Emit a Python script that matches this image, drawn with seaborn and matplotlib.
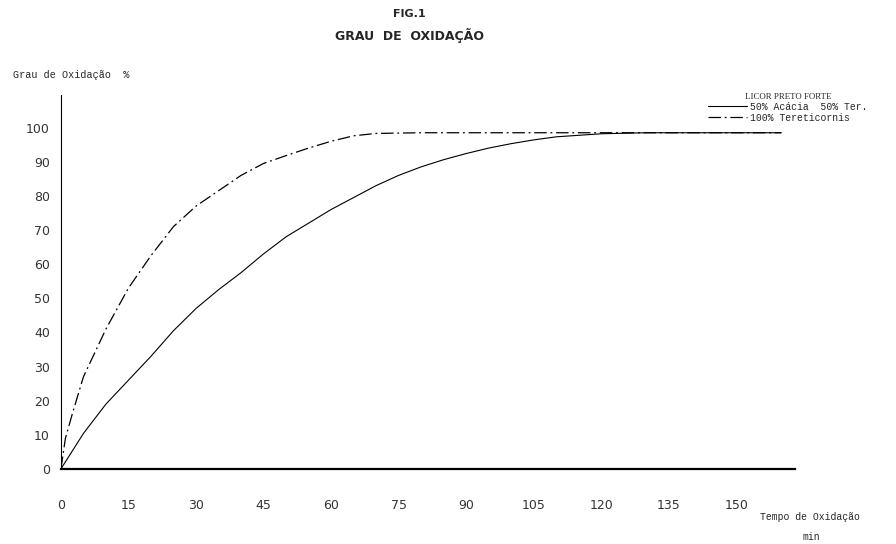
import matplotlib
matplotlib.use("Agg")
import matplotlib.pyplot as plt
import seaborn as sns
import pandas as pd

# --- data ---
t_solid = [0, 5, 10, 15, 20, 25, 30, 35, 40, 45, 50, 55, 60, 65, 70, 75, 80, 85,
           90, 95, 100, 105, 110, 120, 130, 140, 150, 160]
v_solid = [0, 10.4, 19, 26, 33, 40.5, 47, 52.5, 57.5, 63, 68, 72, 76, 79.5, 83, 86,
           88.5, 90.6, 92.4, 94, 95.3, 96.4, 97.3, 98.2, 98.5, 98.5, 98.5, 98.5]

t_dash = [0, 1, 2.5, 5, 10, 15, 20, 25, 30, 35, 40, 45, 50, 55, 60, 65, 70, 80,
          90, 100, 120, 140, 160]
v_dash = [0, 9, 16, 27, 41, 53, 62.5, 71, 77, 81.5, 86, 89.5, 91.8, 94, 96, 97.6,
          98.3, 98.5, 98.5, 98.5, 98.5, 98.5, 98.5]

series_names = ["50% Acácia  50% Ter.", "100% Tereticornis"]
x_ticks = [0, 15, 30, 45, 60, 75, 90, 105, 120, 135, 150]
y_ticks = [0, 10, 20, 30, 40, 50, 60, 70, 80, 90, 100]

df_solid = pd.DataFrame({"t": t_solid, "v": v_solid})
df_dash = pd.DataFrame({"t": t_dash, "v": v_dash})

sns.set_theme(style="white")
plt.rcParams["font.family"] = ["DejaVu Sans"]

fig = plt.figure(figsize=(8.96, 5.44), dpi=100)
ax = fig.add_axes([0.068, 0.138, 0.819, 0.687])

sns.lineplot(data=df_solid, x="t", y="v", ax=ax, color="black", linewidth=0.8,
             label=series_names[0])
sns.lineplot(data=df_dash, x="t", y="v", ax=ax, color="black", linewidth=0.9,
             label=series_names[1])
ax.lines[1].set_dashes((10, 3, 1.5, 3))

ax.set_xlim(0, 163)
ax.set_ylim(0, 109.5)
ax.set_xticks(x_ticks)
ax.set_yticks(y_ticks)
ax.set_xticklabels([str(v) for v in x_ticks], fontsize=9, color="#333333")
ax.set_yticklabels([str(v) for v in y_ticks], fontsize=9, color="#333333")
ax.tick_params(axis="x", direction="in", length=4, width=0.8, pad=22, colors="#333333")
ax.tick_params(axis="y", direction="in", length=4, width=0.8, pad=8, colors="#333333")
ax.set_xlabel("")
ax.set_ylabel("")
for s in ["top", "right"]:
    ax.spines[s].set_visible(False)
ax.spines["left"].set_color("black")
ax.spines["left"].set_linewidth(0.8)
ax.spines["bottom"].set_color("black")
ax.spines["bottom"].set_linewidth(1.6)

leg = ax.legend(loc="upper left", bbox_to_anchor=(0.872, 1.025), frameon=False,
                title="LICOR PRETO FORTE", handlelength=4.0, handletextpad=0.4,
                labelspacing=0.1, borderpad=0.2,
                prop={"family": "Liberation Mono", "size": 7},
                title_fontproperties={"family": "Liberation Serif", "size": 6.4})
leg._legend_box.align = "center"

fig.text(0.457, 0.975, "FIG.1", ha="center", va="center", fontsize=8,
         family="DejaVu Sans", weight="bold")
fig.text(0.457, 0.935, "GRAU  DE  OXIDAÇÃO", ha="center", va="center", fontsize=9,
         family="DejaVu Sans", weight="bold")
fig.text(0.014, 0.862, "Grau de Oxidação  %", ha="left", va="center", fontsize=7.3,
         family="Liberation Mono")
fig.text(0.904, 0.049, "Tempo de Oxidação", ha="center", va="center", fontsize=7,
         family="Liberation Mono")
fig.text(0.906, 0.013, "min", ha="center", va="center", fontsize=7,
         family="Liberation Mono")

fig.savefig("out.png", dpi=100)
